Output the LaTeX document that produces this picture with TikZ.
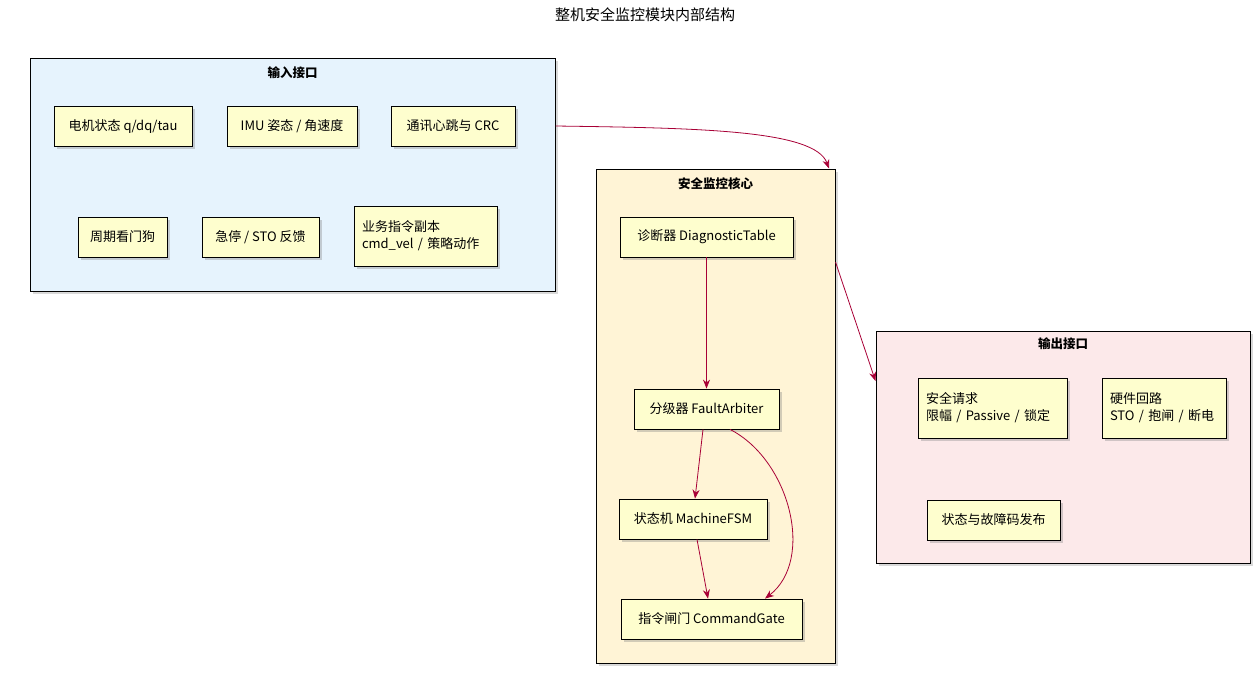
\documentclass[tikz,border=0pt]{standalone}
\usepackage{fontspec}
\setmainfont{Noto Sans CJK SC}
\usetikzlibrary{shadows,arrows.meta}
\definecolor{umlred}{HTML}{A80036}
\definecolor{umlbox}{HTML}{FEFECE}
\tikzset{
  grp/.style={draw=black, line width=1pt, drop shadow={opacity=0.3}, inner sep=0pt},
  comp/.style={draw=black, fill=umlbox, line width=0.8pt, drop shadow={opacity=0.35,shadow xshift=3pt,shadow yshift=-3pt},
    align=left, font=\fontsize{13}{17}\selectfont, inner sep=0pt},
  ttl/.style={font=\bfseries\fontsize{12.5}{15}\selectfont},
  flow/.style={draw=umlred, line width=0.8pt, -{Stealth[length=9pt,width=7pt]}}
}
\begin{document}
\begin{tikzpicture}[x=1pt,y=-1pt]
  \useasboundingbox (0,0) rectangle (1260,673);
  \node[font=\fontsize{15}{18}\selectfont] (title) at (645,15) {整机安全监控模块内部结构};

  % containers
  \node[grp, fill={rgb,255:red,230;green,243;blue,253}, minimum width=525pt, minimum height=233pt] (inp) at (292.5,174.5) {};
  \node[ttl] at (292.5,73) {输入接口};
  \node[grp, fill={rgb,255:red,255;green,244;blue,214}, minimum width=239pt, minimum height=494pt] (core) at (715.5,416) {};
  \node[ttl] at (715.5,184) {安全监控核心};
  \node[grp, fill={rgb,255:red,252;green,233;blue,234}, minimum width=374pt, minimum height=232pt] (outp) at (1063,447) {};
  \node[ttl] at (1063,344) {输出接口};

  % input side
  \node[comp, minimum width=138pt, minimum height=40pt, align=center] (motor) at (123,126) {电机状态 q/dq/tau};
  \node[comp, minimum width=130pt, minimum height=40pt, align=center] (imu) at (292,126) {IMU 姿态 / 角速度};
  \node[comp, minimum width=124pt, minimum height=40pt, align=center] (comm) at (453,126) {通讯心跳与 CRC};
  \node[comp, minimum width=89pt, minimum height=40pt, align=center] (wdog) at (122.5,237) {周期看门狗};
  \node[comp, minimum width=117pt, minimum height=40pt, align=center] (estop) at (260.5,237) {急停 / STO 反馈};
  \node[comp, minimum width=143pt, minimum height=60pt, text width=127pt] (cmd) at (425.5,236) {业务指令副本\\cmd\_vel / 策略动作};

  % core
  \node[comp, minimum width=173pt, minimum height=40pt, align=center] (diag) at (706.5,237) {诊断器 DiagnosticTable};
  \node[comp, minimum width=145pt, minimum height=40pt, align=center] (arb) at (706.5,409) {分级器 FaultArbiter};
  \node[comp, minimum width=148pt, minimum height=40pt, align=center] (fsm) at (693,519) {状态机 MachineFSM};
  \node[comp, minimum width=181pt, minimum height=40pt, align=center] (gate) at (711.5,619) {指令闸门 CommandGate};

  % output side
  \node[comp, minimum width=149pt, minimum height=60pt, text width=133pt] (req) at (992.5,408) {安全请求\\限幅 / Passive / 锁定};
  \node[comp, minimum width=124pt, minimum height=60pt, text width=108pt] (hw) at (1164,408) {硬件回路\\STO / 抱闸 / 断电};
  \node[comp, minimum width=133pt, minimum height=40pt, align=center] (pub) at (993.5,520) {状态与故障码发布};

  \draw[flow] (inp.east |- motor) .. controls (700,128) and (815,130) .. (core.north east -| 829,169);
  \draw[flow] (core.east |- 0,262) -- (outp.west |- 0,381);
  \draw[flow] (diag.south) -- (arb.north);
  \draw[flow] (arb.south -| 703,0) -- (fsm.north -| 695,0);
  \draw[flow] (arb.south -| 730,0) .. controls (790,460) and (815,560) .. (gate.north -| 765,0);
  \draw[flow] (fsm.south -| 697,0) -- (gate.north -| 708,0);
\end{tikzpicture}
\end{document}
